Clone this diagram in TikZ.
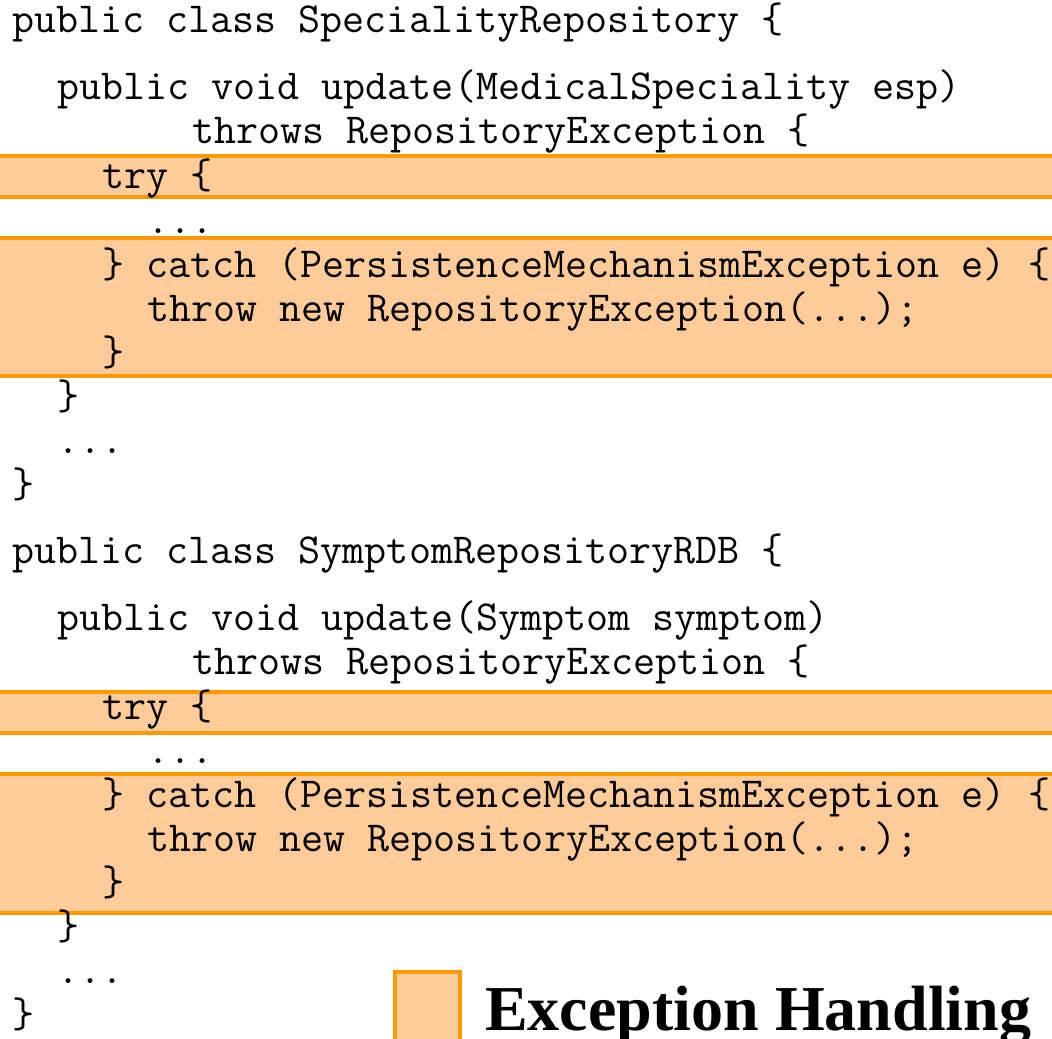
\documentclass[tikz,border=0pt]{standalone}
\usepackage{fontspec}
\newfontfamily\legendfont{Liberation Serif}
\definecolor{handlefill}{HTML}{FFCC99}
\definecolor{handleline}{HTML}{FF9900}
\begin{document}
\begin{tikzpicture}[x=0.75pt,y=-0.75pt,
    code/.style={anchor=base west,inner sep=0pt,font=\ttfamily\fontsize{32.1}{36}\selectfont},
    band/.style={fill=handlefill,draw=handleline,line width=3pt}]
    \useasboundingbox (0,0) rectangle (1052,1038);
    % exception handling bands
    \draw[band](-10,156) rectangle (1062,197);
    \draw[band](-10,238) rectangle (1062,376);
    \draw[band](-10,692) rectangle (1062,733);
    \draw[band](-10,774) rectangle (1062,913);
    % SpecialityRepository
    \node[code](l1)  at (12,33)  {public class SpecialityRepository \{};
    \node[code](l2)  at (57,100) {public void update(MedicalSpeciality esp)};
    \node[code](l3)  at (192,144) {throws RepositoryException \{};
    \node[code](l4)  at (102,189) {try \{};
    \node[code](l5)  at (147,233) {...};
    \node[code](l6)  at (102,277) {\} catch (PersistenceMechanismException e) \{};
    \node[code](l7)  at (147,321) {throw new RepositoryException(...);};
    \node[code](l8)  at (102,365) {\}};
    \node[code](l9)  at (57,409) {\}};
    \node[code](l10) at (57,453) {...};
    \node[code](l11) at (12,497) {\}};
    % SymptomRepositoryRDB
    \node[code](l12) at (12,563) {public class SymptomRepositoryRDB \{};
    \node[code](l13) at (57,630) {public void update(Symptom symptom)};
    \node[code](l14) at (192,674) {throws RepositoryException \{};
    \node[code](l15) at (102,719) {try \{};
    \node[code](l16) at (147,763) {...};
    \node[code](l17) at (102,807) {\} catch (PersistenceMechanismException e) \{};
    \node[code](l18) at (147,851) {throw new RepositoryException(...);};
    \node[code](l19) at (102,895) {\}};
    \node[code](l20) at (57,939) {\}};
    \node[code](l21) at (57,983) {...};
    \node[code](l22) at (12,1027) {\}};
    % legend
    \draw[band](395,972) rectangle (460,1050);
    \node[anchor=base west,inner sep=0pt,font=\legendfont\bfseries\fontsize{48}{56}\selectfont](legend) at (485,1030) {Exception Handling};
  \end{tikzpicture}
\end{document}
